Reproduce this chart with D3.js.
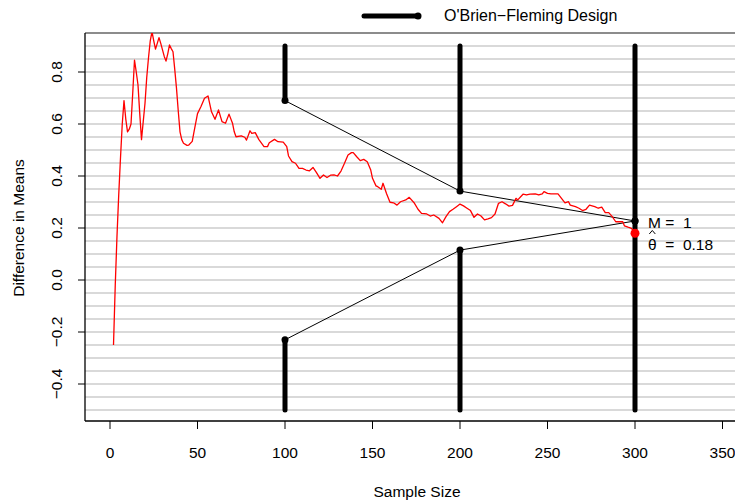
<!DOCTYPE html>
<html>
<head>
<meta charset="utf-8">
<script src="https://cdn.jsdelivr.net/npm/d3@7"></script>
<style>
  body { margin: 0; background: #fff; }
  svg text { font-family: "Liberation Sans", Arial, Helvetica, sans-serif; fill: #000; }
</style>
</head>
<body>
<div id="chart"></div>
<script>
// running difference in means
var sampleSize = [2,3,4,5,6,7,8,9,10,11,12,13,14,15,16,17,18,19,20,21,22,23,24,25,26,27,28,29,30,
    31,32,33,34,35,36,37,38,39,40,41,42,44,45,47,48,50,52,54,56,58,60,62,64,66,68,70,71,72,75,77,78,
    80,81,83,85,88,90,91,94,96,99,101,102,104,106,108,110,112,114,116,118,120,122,124,126,128,130,
    132,134,136,138,139,141,143,145,147,149,150,152,153,155,156,158,160,162,164,166,169,171,174,176,
    178,181,183,185,188,190,192,194,196,198,200,202,204,206,208,210,212,214,216,218,220,222,224,226,
    228,230,232,233,236,238,240,243,245,247,248,250,252,256,258,260,262,263,266,268,270,272,274,277,
    279,281,283,285,287,289,291,293,294,296,298,300];
var diffMeans = [-0.25,-0.02,0.17,0.33,0.47,0.60,0.69,0.62,0.57,0.58,0.60,0.72,0.846,0.80,0.75,0.64,
    0.54,0.61,0.68,0.78,0.855,0.92,0.955,0.92,0.888,0.91,0.932,0.91,0.885,0.86,0.842,0.87,0.904,0.89,
    0.878,0.81,0.737,0.65,0.57,0.54,0.526,0.518,0.519,0.533,0.57,0.64,0.667,0.699,0.708,0.647,0.618,
    0.654,0.609,0.603,0.638,0.603,0.570,0.551,0.554,0.549,0.538,0.574,0.564,0.567,0.541,0.513,0.513,
    0.528,0.541,0.532,0.53,0.513,0.477,0.455,0.449,0.429,0.429,0.423,0.420,0.433,0.413,0.391,0.404,
    0.394,0.403,0.404,0.40,0.419,0.449,0.481,0.49,0.49,0.474,0.459,0.464,0.455,0.423,0.391,0.362,0.359,
    0.349,0.372,0.333,0.299,0.297,0.288,0.301,0.308,0.318,0.295,0.272,0.256,0.254,0.246,0.25,0.237,0.22,
    0.244,0.263,0.272,0.282,0.292,0.285,0.276,0.267,0.241,0.254,0.246,0.231,0.235,0.24,0.254,0.295,0.301,
    0.293,0.284,0.287,0.314,0.308,0.33,0.327,0.33,0.331,0.327,0.331,0.34,0.333,0.331,0.331,0.314,0.297,
    0.301,0.288,0.282,0.276,0.267,0.272,0.288,0.282,0.276,0.28,0.259,0.259,0.244,0.224,0.224,0.224,0.208,
    0.203,0.199,0.18];

// O'Brien-Fleming boundaries at the looks
var looks = [100, 200, 300];
var upperBound = [0.69, 0.342, 0.227];
var lowerBound = [-0.23, 0.115, 0.227];
var barTop = 0.9, barBottom = -0.5;

var xTicks = [0, 50, 100, 150, 200, 250, 300, 350];
var yTicks = [-0.4, -0.2, 0, 0.2, 0.4, 0.6, 0.8];
var gridVals = d3.range(-0.5, 0.951, 0.05);

var finalM = 1, finalTheta = 0.18;

var width = 735, height = 502;
var plotLeft = 85, plotTop = 33, plotBottom = 421, plotRight = 760;
var fs = "15.5px";

var x = d3.scaleLinear().domain([0, 300]).range([110, 635]);
var y = d3.scaleLinear().domain([-0.4, 0.8]).range([384, 72]);

var svg = d3.select("#chart").append("svg")
    .attr("width", width)
    .attr("height", height);

svg.append("defs").append("clipPath").attr("id", "clip")
  .append("rect").attr("x", plotLeft).attr("y", plotTop)
  .attr("width", plotRight - plotLeft).attr("height", plotBottom - plotTop);

// grid
svg.append("g").selectAll("line")
    .data(gridVals)
    .enter().append("line")
    .attr("x1", plotLeft).attr("x2", plotRight)
    .attr("y1", function(d) { return y(d); })
    .attr("y2", function(d) { return y(d); })
    .style("stroke", function(d) { return Math.abs(d - 0.95) < 1e-6 ? "#8c8c8c" : "#cccccc"; })
    .style("stroke-width", function(d) { return Math.abs(d - 0.95) < 1e-6 ? 2 : 1.3; });

// axes
svg.append("line").attr("x1", plotLeft).attr("x2", plotLeft).attr("y1", plotTop).attr("y2", plotBottom)
    .style("stroke", "#000").style("stroke-width", 1.3);
svg.append("line").attr("x1", plotLeft).attr("x2", plotRight).attr("y1", plotBottom).attr("y2", plotBottom)
    .style("stroke", "#000").style("stroke-width", 1.3);

var xAxis = svg.append("g").selectAll("g").data(xTicks).enter().append("g")
    .attr("transform", function(d) { return "translate(" + x(d) + "," + plotBottom + ")"; });
xAxis.append("line").attr("y1", 0).attr("y2", 8).style("stroke", "#000");
xAxis.append("text").attr("y", 37).attr("text-anchor", "middle")
    .style("font-size", fs).text(function(d) { return d; });

var yAxis = svg.append("g").selectAll("g").data(yTicks).enter().append("g")
    .attr("transform", function(d) { return "translate(" + plotLeft + "," + y(d) + ")"; });
yAxis.append("line").attr("x1", 0).attr("x2", -7).style("stroke", "#000");
yAxis.append("text").attr("transform", "translate(-23,0) rotate(-90)").attr("text-anchor", "middle")
    .style("font-size", fs)
    .text(function(d) { return d3.format(".1f")(d).replace("-", "\u2212"); });

svg.append("text").attr("x", 417).attr("y", 497).attr("text-anchor", "middle")
    .style("font-size", fs).text("Sample Size");
svg.append("text").attr("transform", "translate(24," + y(0.2) + ") rotate(-90)")
    .attr("text-anchor", "middle").style("font-size", fs).text("Difference in Means");

var plot = svg.append("g").attr("clip-path", "url(#clip)");

// boundary bars
var bars = [];
looks.forEach(function(n, i) {
    if (upperBound[i] === lowerBound[i]) {
        bars.push({n: n, a: barBottom, b: barTop});
    } else {
        bars.push({n: n, a: upperBound[i], b: barTop});
        bars.push({n: n, a: barBottom, b: lowerBound[i]});
    }
});
plot.selectAll(".bar").data(bars).enter().append("line")
    .attr("class", "bar")
    .attr("x1", function(d) { return x(d.n); }).attr("x2", function(d) { return x(d.n); })
    .attr("y1", function(d) { return y(d.a); }).attr("y2", function(d) { return y(d.b); })
    .style("stroke", "#000").style("stroke-width", 5).style("stroke-linecap", "round");

var line = d3.line().x(function(d) { return x(d[0]); }).y(function(d) { return y(d[1]); });

plot.append("path").datum(d3.zip(looks, upperBound)).attr("d", line)
    .style("fill", "none").style("stroke", "#000").style("stroke-width", 1);
plot.append("path").datum(d3.zip(looks, lowerBound)).attr("d", line)
    .style("fill", "none").style("stroke", "#000").style("stroke-width", 1);

// running mean
plot.append("path").datum(d3.zip(sampleSize, diffMeans)).attr("d", line)
    .style("fill", "none").style("stroke", "#ff0000").style("stroke-width", 1.3)
    .style("stroke-linejoin", "round");

var pts = d3.zip(looks, upperBound).concat(d3.zip(looks, lowerBound));
plot.selectAll(".pt").data(pts).enter().append("circle")
    .attr("cx", function(d) { return x(d[0]); }).attr("cy", function(d) { return y(d[1]); })
    .attr("r", 3.5).style("fill", "#000");

plot.append("circle").attr("cx", x(300)).attr("cy", y(finalTheta)).attr("r", 4.5).style("fill", "#ff0000");

// annotation
var ax = x(300) + 13, ay = y(upperBound[2]);
svg.append("text").attr("x", ax).attr("y", ay + 7).style("font-size", fs)
    .style("white-space", "pre").text("M =  " + finalM);
svg.append("text").attr("x", ax).attr("y", ay + 29).style("font-size", fs)
    .style("white-space", "pre").text("\u03b8  =  " + finalTheta);
// hat over theta
svg.append("path")
    .attr("d", "M" + (ax + 1.3) + "," + (ay + 13) + "L" + (ax + 4.3) + "," + (ay + 9.5) + "L" + (ax + 7.3) + "," + (ay + 13))
    .style("fill", "none").style("stroke", "#000").style("stroke-width", 1);

// legend
var lg = svg.append("g");
lg.append("line").attr("x1", 364).attr("x2", 418).attr("y1", 16).attr("y2", 16)
    .style("stroke", "#000").style("stroke-width", 5).style("stroke-linecap", "round");
lg.append("circle").attr("cx", 418).attr("cy", 16).attr("r", 3.5).style("fill", "#000");
lg.append("text").attr("x", 444).attr("y", 21).style("font-size", "16px").text("O'Brien\u2212Fleming Design");
</script>
</body>
</html>
